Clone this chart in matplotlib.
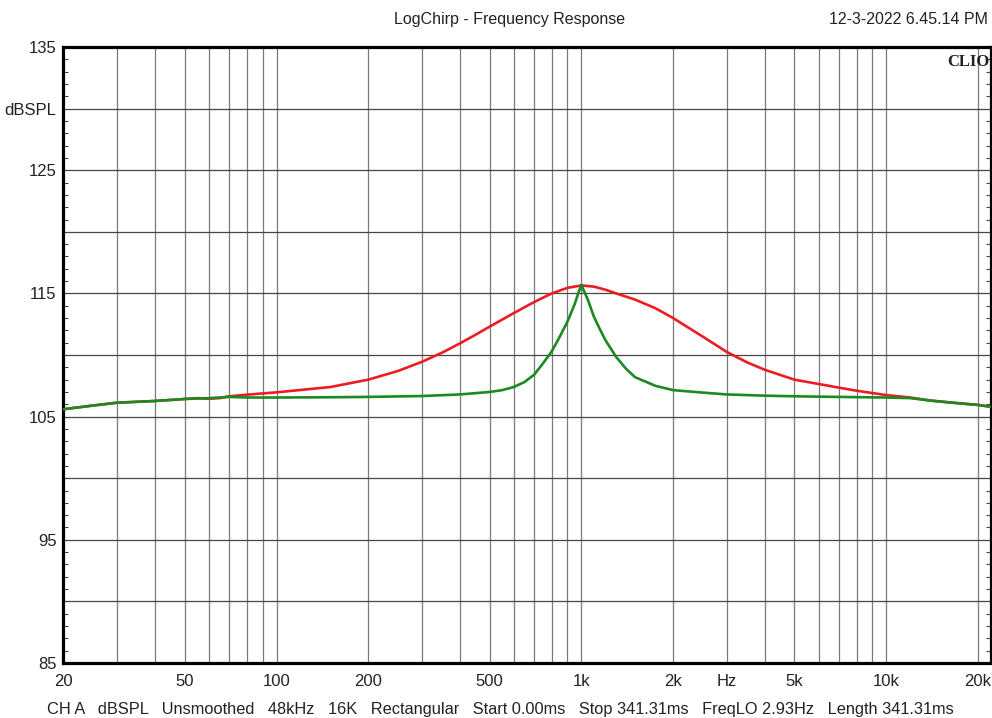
import matplotlib
matplotlib.use("Agg")
import matplotlib.pyplot as plt
from matplotlib.ticker import FixedLocator, MultipleLocator, NullFormatter

plt.rcParams['font.family'] = ['Liberation Sans', 'DejaVu Sans']

# red trace (wide peak)
red_freq = [20, 25, 30, 40, 50, 55, 60, 65, 70, 80, 100, 150, 200, 250, 300, 350, 400, 450,
            500, 600, 700, 800, 900, 1000, 1100, 1200, 1300, 1500, 1750, 2000, 2500, 3000,
            3500, 4000, 5000, 6000, 7000, 8000, 10000, 12000, 14000, 17000, 20000, 22000]
red_db = [105.6, 105.9, 106.13, 106.27, 106.43, 106.5, 106.45, 106.5, 106.65, 106.78, 106.97,
          107.4, 108.0, 108.7, 109.45, 110.2, 110.95, 111.65, 112.3, 113.4, 114.3, 115.0,
          115.45, 115.65, 115.55, 115.3, 115.0, 114.5, 113.8, 113.0, 111.5, 110.25, 109.4,
          108.8, 108.0, 107.65, 107.35, 107.1, 106.75, 106.55, 106.3, 106.1, 105.95, 105.8]

# green trace (narrow peak)
green_freq = [20, 25, 30, 40, 50, 60, 70, 80, 100, 150, 200, 300, 400, 500, 550, 600, 650,
              700, 750, 800, 850, 900, 950, 980, 1000, 1020, 1050, 1100, 1150, 1200, 1300,
              1400, 1500, 1750, 2000, 2500, 3000, 4000, 5000, 6000, 8000, 10000, 12000,
              14000, 17000, 20000, 22000]
green_db = [105.6, 105.9, 106.13, 106.27, 106.43, 106.5, 106.6, 106.55, 106.55, 106.57, 106.6,
            106.67, 106.8, 107.0, 107.15, 107.4, 107.8, 108.4, 109.35, 110.3, 111.5, 112.7,
            114.1, 115.1, 115.7, 115.2, 114.5, 113.1, 112.1, 111.2, 109.85, 108.9, 108.2,
            107.5, 107.15, 106.95, 106.8, 106.7, 106.65, 106.62, 106.58, 106.55, 106.5,
            106.3, 106.1, 105.95, 105.8]

grid_freqs = [20, 30, 40, 50, 60, 70, 80, 90, 100, 200, 300, 400, 500, 600, 700, 800, 900,
              1000, 2000, 3000, 4000, 5000, 6000, 7000, 8000, 9000, 10000, 20000]
x_labels = {20: '20', 50: '50', 100: '100', 200: '200', 500: '500', 1000: '1k', 2000: '2k',
            3000: 'Hz', 5000: '5k', 10000: '10k', 20000: '20k'}
y_ticks = [85, 90, 95, 100, 105, 110, 115, 120, 125, 130, 135]
y_labels = ['85', '', '95', '', '105', '', '115', '', '125', 'dBSPL', '135']

fig = plt.figure(figsize=(9.92, 7.18), dpi=100)
ax = fig.add_axes([0.064, 0.0766, 0.9345, 0.8579])

ax.set_xscale('log')
ax.set_xlim(20, 22000)
ax.set_ylim(85, 135)

ax.plot(red_freq, red_db, color='#ec1c24', lw=1.9, zorder=3)
ax.plot(green_freq, green_db, color='#1c8a22', lw=1.9, zorder=4)

# grid
ax.xaxis.set_major_locator(FixedLocator(grid_freqs))
ax.set_xticklabels([x_labels.get(f, '') for f in grid_freqs])
ax.xaxis.set_minor_formatter(NullFormatter())
ax.xaxis.set_minor_locator(FixedLocator([]))
ax.set_yticks(y_ticks)
ax.set_yticklabels(y_labels)
ax.yaxis.set_minor_locator(MultipleLocator(1))
ax.grid(axis='x', which='major', color='#7a7a7a', lw=0.9)
ax.grid(axis='y', which='major', color='#474747', lw=0.9)

ax.tick_params(axis='x', which='major', length=0, pad=8, labelsize=12, labelcolor='#222222')
ax.tick_params(axis='y', which='major', length=0, pad=5, labelsize=12, labelcolor='#222222')
ax.tick_params(axis='y', which='minor', direction='in', length=3.5, width=0.8,
               left=True, right=True, color='#444444')

for side in ['left', 'top', 'bottom']:
    ax.spines[side].set_linewidth(2.3)
ax.spines['right'].set_linewidth(1.6)

fig.text(0.5135, 0.973, 'LogChirp - Frequency Response', ha='center', va='center',
         fontsize=11.5, color='#222222')
fig.text(0.996, 0.973, '12-3-2022 6.45.14 PM', ha='right', va='center',
         fontsize=11.5, color='#222222')
ax.text(0.999, 0.988, 'CLIO', transform=ax.transAxes, ha='right', va='top',
        fontsize=12, fontweight='bold', family='Liberation Serif', color='#222222')

fig.text(0.504, 0.0125,
         'CH A   dBSPL   Unsmoothed   48kHz   16K   Rectangular   Start 0.00ms   '
         'Stop 341.31ms   FreqLO 2.93Hz   Length 341.31ms',
         ha='center', va='center', fontsize=11.8, color='#222222')

fig.savefig('out.png', dpi=100)
